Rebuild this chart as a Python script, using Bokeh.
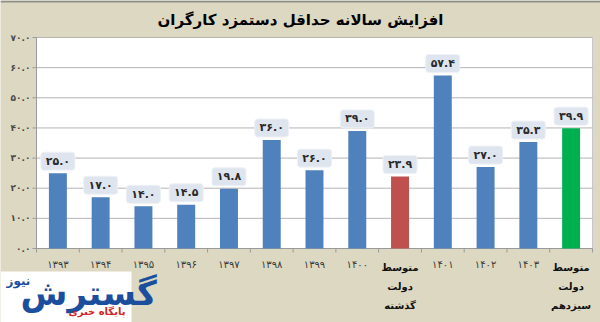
from bokeh.plotting import figure
from bokeh.models import ColumnDataSource, Range1d
from bokeh.core.properties import value
from bokeh.transform import dodge
from bokeh.embed import file_html
from bokeh.resources import INLINE

# ---------------- data ----------------
categories = ["۱۳۹۳", "۱۳۹۴", "۱۳۹۵", "۱۳۹۶", "۱۳۹۷", "۱۳۹۸", "۱۳۹۹", "۱۴۰۰",
              "متوسط دولت گذشته", "۱۴۰۱", "۱۴۰۲", "۱۴۰۳", "متوسط دولت سیزدهم"]
values = [25.0, 17.0, 14.0, 14.5, 19.8, 36.0, 26.0, 39.0, 23.9, 57.4, 27.0, 35.3, 39.9]
y_ticks = [0, 10, 20, 30, 40, 50, 60, 70]
title_text = "افزایش سالانه حداقل دستمزد کارگران"
logo_main, logo_small, logo_sub = "گسترش", "نیوز", "پایگاه خبری"

# ---------------- styles ----------------
BLUE, RED, GREEN = "#4f81bd", "#c0504d", "#00b050"
special = {"متوسط دولت گذشته": RED, "متوسط دولت سیزدهم": GREEN}
bar_colors = [special.get(c, BLUE) for c in categories]
BEIGE = "#dcd8c1"
FONT = "DejaVu Sans"

FA = str.maketrans("0123456789", "۰۱۲۳۴۵۶۷۸۹")
def fa(s):
    return s.translate(FA)

# page geometry (pixels) of the plotting area inside the canvas
W, H = 600, 322
PL, PR, PT, PB = 36, 592, 37, 248
n = len(categories)
cw = (PR - PL) / n
ppu = (PB - PT) / (y_ticks[-1] - y_ticks[0])

def xd(px):
    return (px - PL) / cw

def yd(py):
    return (PB - py) / ppu

p = figure(width=W, height=H, x_range=Range1d(xd(0), xd(W)), y_range=Range1d(yd(H), yd(0)),
           output_backend="svg", toolbar_location=None, min_border=0,
           x_axis_type=None, y_axis_type=None)
p.background_fill_color = BEIGE
p.border_fill_color = BEIGE
p.outline_line_color = None
p.xgrid.visible = False
p.ygrid.visible = False

x0, x1 = 0, n
y0, y1 = y_ticks[0], y_ticks[-1]

# top border line of the picture
p.segment(x0=[xd(0)], x1=[xd(W)], y0=[yd(1)], y1=[yd(1)], line_color="#8f8f88", line_width=2)

# white plot area
p.quad(left=[x0], right=[x1], bottom=[y0], top=[y1], fill_color="white", line_color=None)
p.segment(x0=[x1], x1=[x1], y0=[y0], y1=[y1], line_color="#c8c8c8", line_width=1)

# horizontal grid lines + y ticks
p.segment(x0=[x0] * len(y_ticks), x1=[x1] * len(y_ticks), y0=y_ticks, y1=y_ticks,
          line_color="#b4b4b4", line_width=1)
p.segment(x0=[xd(PL - 4)] * len(y_ticks), x1=[x0] * len(y_ticks), y0=y_ticks, y1=y_ticks,
          line_color="#9a9a9a", line_width=1)
# axis lines
p.segment(x0=[x0], x1=[x0], y0=[y0], y1=[y1], line_color="#9a9a9a", line_width=1)
p.segment(x0=[x0], x1=[x1], y0=[y0], y1=[y0], line_color="#9a9a9a", line_width=1)
# x ticks at category boundaries
bx = list(range(n + 1))
p.segment(x0=bx, x1=bx, y0=[y0] * len(bx), y1=[yd(PB + 4)] * len(bx),
          line_color="#9a9a9a", line_width=1)

# y tick labels
p.text(x=[xd(PL - 6)] * len(y_ticks), y=y_ticks, text=[fa(f"{t:.1f}") for t in y_ticks],
       text_align="right", text_baseline="middle", text_font=value(FONT),
       text_font_style="bold", text_font_size="9px", text_color="#4a4a4a")

# bars
xc = [i + 0.5 for i in range(n)]
src = ColumnDataSource(dict(x=xc, val=values, color=bar_colors,
                            label=[fa(f"{v:.1f}") for v in values]))
p.vbar(x="x", top="val", width=0.42, bottom=0, fill_color="color", line_color=None, source=src)

# value label boxes
ly_tr = dodge("val", 12 / ppu, range=p.y_range)
p.rect(x="x", y=ly_tr, width=34, height=18, width_units="screen", height_units="screen",
       fill_color="#dfe5ee", line_color="#eef1f6", line_width=1,
       border_radius=3, source=src)
p.text(x="x", y=ly_tr, text="label", text_align="center",
       text_baseline="middle", text_font=value(FONT), text_font_style="bold",
       text_font_size="11px", text_color="#2a2a2a", source=src)

# x category labels (multi-line for the long ones)
lx, ly, lt, lcol, lst = [], [], [], [], []
for i, c in enumerate(categories):
    words = c.split(" ")
    for j, w in enumerate(words):
        lx.append(i + 0.5)
        if len(words) == 1:
            ly.append(yd(264))
            lcol.append("#3a3a3a")
            lst.append("normal")
        else:
            ly.append(yd(267 + 19 * j))
            lcol.append("#111111")
            lst.append("bold")
        lt.append(w)
lsrc = ColumnDataSource(dict(x=lx, y=ly, t=lt, c=lcol, s=lst))
p.text(x="x", y="y", text="t", source=lsrc, text_align="center", text_baseline="middle",
       text_font=value(FONT), text_font_style="s", text_font_size="10px", text_color="c")

# title
p.text(x=[xd(300)], y=[yd(19)], text=[title_text], text_align="center",
       text_baseline="middle", text_font=value(FONT), text_font_style="bold",
       text_font_size="15px", text_color="black")

# logo
p.quad(left=[xd(0)], right=[xd(131)], top=[yd(271)], bottom=[yd(H)],
       fill_color="white", line_color=None)
p.text(x=[xd(20)], y=[yd(292)], text=[logo_main], text_align="left",
       text_baseline="middle", text_font=value(FONT), text_font_style="bold",
       text_font_size="34px", text_color="#1b4f9e")
p.text(x=[xd(6)], y=[yd(280)], text=[logo_small], text_align="left",
       text_baseline="middle", text_font=value(FONT), text_font_style="bold",
       text_font_size="12px", text_color="#1b4f9e")
p.text(x=[xd(68)], y=[yd(311)], text=[logo_sub], text_align="left",
       text_baseline="middle", text_font=value(FONT), text_font_style="bold",
       text_font_size="10px", text_color="#d3262b")

open("out.html", "w").write(file_html(p, INLINE))
